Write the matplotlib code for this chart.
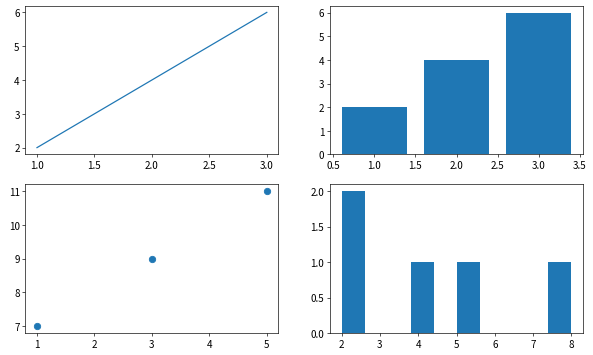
import matplotlib
matplotlib.use("Agg")
import matplotlib.pyplot as plt
from matplotlib.ticker import MultipleLocator

plt.rcParams['font.family'] = ['Noto Sans CJK SC', 'DejaVu Sans']
plt.rcParams['axes.unicode_minus'] = False
plt.rcParams['font.size'] = 12

line_x = [1, 2, 3]
line_y = [2, 4, 6]
bar_x = [1, 2, 3]
bar_h = [2, 4, 6]
scatter_x = [1, 3, 5]
scatter_y = [7, 9, 11]
hist_data = [2, 2, 4, 5, 8]

fig, axes = plt.subplots(2, 2, figsize=(10, 6), dpi=59.3)
axes[0, 0].plot(line_x, line_y)
axes[0, 0].xaxis.set_major_locator(MultipleLocator(0.5))
axes[0, 0].yaxis.set_major_locator(MultipleLocator(1))
axes[0, 1].bar(bar_x, bar_h)
axes[0, 1].xaxis.set_major_locator(MultipleLocator(0.5))
axes[0, 1].yaxis.set_major_locator(MultipleLocator(1))
axes[1, 0].scatter(scatter_x, scatter_y, s=60)
axes[1, 0].xaxis.set_major_locator(MultipleLocator(1))
axes[1, 0].yaxis.set_major_locator(MultipleLocator(1))
axes[1, 1].hist(hist_data)
axes[1, 1].xaxis.set_major_locator(MultipleLocator(1))
axes[1, 1].yaxis.set_major_locator(MultipleLocator(0.5))

fig.subplots_adjust(left=0.043, right=0.983, top=0.982, bottom=0.062, wspace=0.205, hspace=0.2)
fig.savefig("out.png", dpi=59.3)
